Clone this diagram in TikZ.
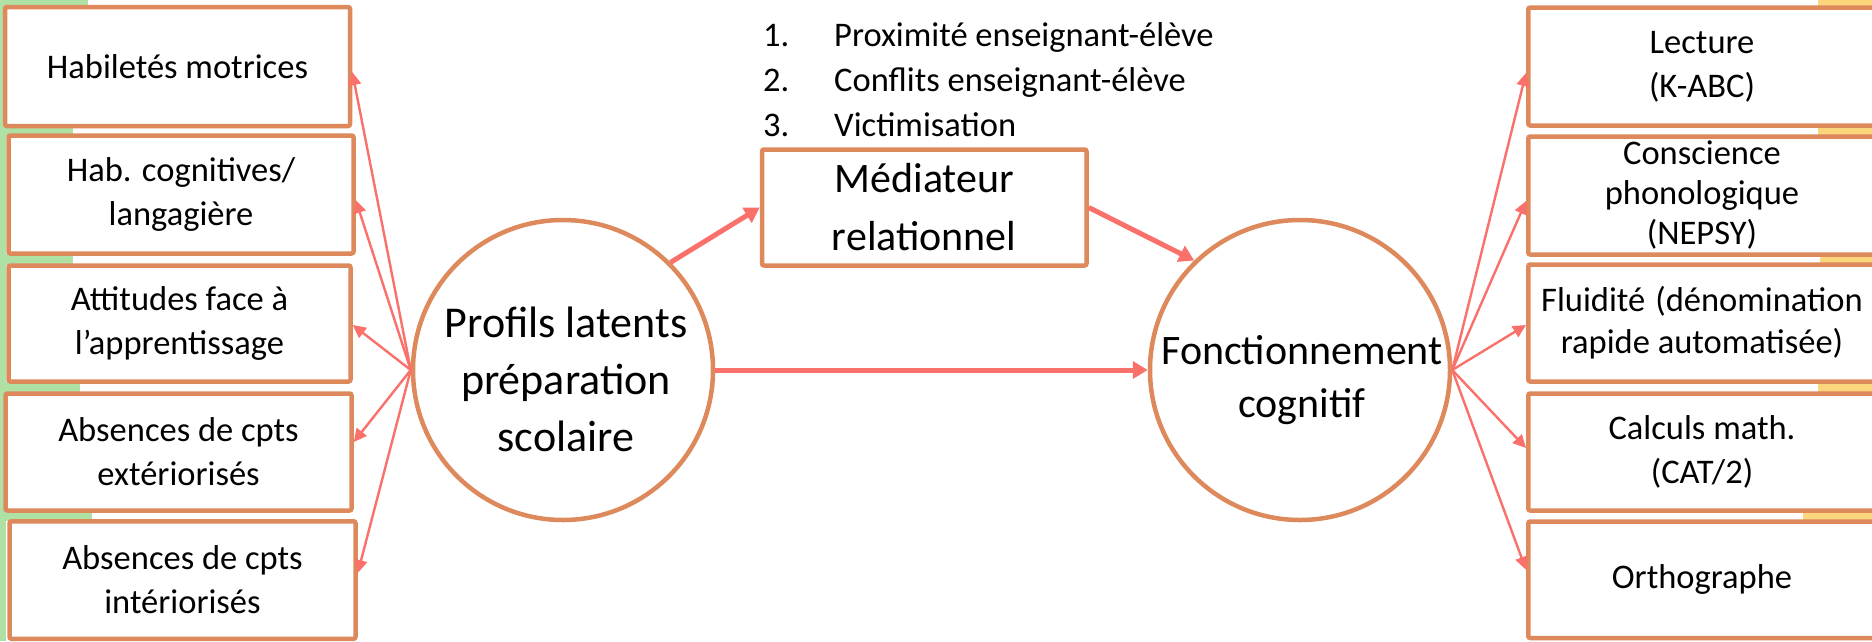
\documentclass[tikz,border=0pt]{standalone}
\usepackage{fontspec}
\setmainfont{Carlito}
\usetikzlibrary{arrows.meta}
\definecolor{boxline}{RGB}{221,137,92}
\definecolor{arrowc}{RGB}{250,112,106}
\definecolor{greenbg}{RGB}{176,225,164}
\definecolor{yellowbg}{RGB}{252,214,124}
\begin{document}
\begin{tikzpicture}[x=1pt,y=-1pt,
  box/.style={draw=boxline, line width=4.5pt, rounded corners=2pt, fill=white, align=center, inner sep=0pt, font=\fontsize{34.5}{44}\selectfont},
  circ/.style={draw=boxline, line width=4.5pt, circle, minimum size=300pt, inner sep=0pt, fill=white},
  ctext/.style={align=center, inner sep=0pt, font=\fontsize{44}{57}\selectfont},
  thinarrow/.style={draw=arrowc, line width=2.4pt, -{Triangle[length=13pt,width=12.5pt]}},
  bigarrow/.style={draw=arrowc, line width=5pt, -{Triangle[length=15pt,width=17pt]}},
  lbl/.style={anchor=base west, inner sep=0pt, font=\fontsize{34.5}{44}\selectfont}]
\useasboundingbox[fill=white] (0,0) rectangle (1872,641);
% background strips
\fill[greenbg] (0,0) rectangle (88,6);
\fill[greenbg] (0,0) rectangle (6,641);
\fill[greenbg] (0,126) rectangle (73,136);
\fill[greenbg] (0,254) rectangle (73,265);
\fill[greenbg] (0,382) rectangle (80,393);
\fill[greenbg] (0,511) rectangle (92,521);
\fill[yellowbg] (1818,0) rectangle (1872,6);
\fill[yellowbg] (1818,126) rectangle (1872,136);
\fill[yellowbg] (1820,255) rectangle (1872,264);
\fill[yellowbg] (1818,382) rectangle (1872,393);
\fill[yellowbg] (1803,511) rectangle (1872,521);
% left boxes
\node[box, minimum width=345pt, minimum height=119pt] (L1) at (177.5,66.5) {Habiletés motrices};
\node[box, minimum width=345pt, minimum height=118pt] (L2) at (181,194.5) {Hab. cognitives/\\langagière};
\node[box, minimum width=342pt, minimum height=116pt] (L3) at (179.5,323.5) {Attitudes face à\\l’apprentissage};
\node[box, minimum width=346pt, minimum height=117pt] (L4) at (178.5,452) {Absences de cpts\\extériorisés};
\node[box, minimum width=346pt, minimum height=117.5pt] (L5) at (182.5,580) {Absences de cpts\\intériorisés};
% right boxes
\node[box, minimum width=347.5pt, minimum height=118pt] (R1) at (1702,66.5) {Lecture\\(K-ABC)};
\node[box, minimum width=347.5pt, minimum height=118pt, font=\fontsize{34.5}{40}\selectfont] (R2) at (1702,195.5) {Conscience\\phonologique\\(NEPSY)};
\node[box, minimum width=347.5pt, minimum height=117pt, font=\fontsize{34.5}{42}\selectfont] (R3) at (1702,323) {Fluidité\hspace{10pt}(dénomination\\rapide automatisée)};
\node[box, minimum width=347.5pt, minimum height=117pt] (R4) at (1702,452) {Calculs math.\\(CAT/2)};
\node[box, minimum width=347.5pt, minimum height=116.5pt] (R5) at (1702,579.75) {Orthographe};
% mediator
\node[box, minimum width=324.5pt, minimum height=116pt, font=\fontsize{42}{58}\selectfont] (med) at (924.25,207.5) {Médiateur\\relationnel};
% list
\node[lbl] (n1) at (763,46) {1.};
\node[lbl] (i1) at (834,46) {Proximité enseignant-élève};
\node[lbl] (n2) at (763,91) {2.};
\node[lbl] (i2) at (834,91) {Conflits enseignant-élève};
\node[lbl] (n3) at (763,136) {3.};
\node[lbl] (i3) at (834,136) {Victimisation};
% circles
\node[circ] (lc) at (563,370) {};
\node[circ] (rc) at (1300,370) {};
\node[ctext] (lct) at (566,379) {Profils latents\\préparation\\scolaire};
\node[ctext, font=\fontsize{42}{53}\selectfont] (rct) at (1302,380) {Fonctionnement\\cognitif};
% arrows
\draw[bigarrow] (lc.45) -- (med.west);
\draw[bigarrow] (med.east) -- (rc.134);
\draw[bigarrow] (lc.east) -- (rc.west);
\foreach \n/\s in {L1/-5.5, L2/-5.5, L3/-1.5, L4/10, L5/7}
  \draw[thinarrow] (lc.west) -- ([yshift=\s pt]\n.east);
\foreach \n/\s in {R1/-6.5, R2/-5.5, R3/-2, R4/4, R5/10}
  \draw[thinarrow] (rc.east) -- ([yshift=\s pt]\n.west);
\end{tikzpicture}
\end{document}
